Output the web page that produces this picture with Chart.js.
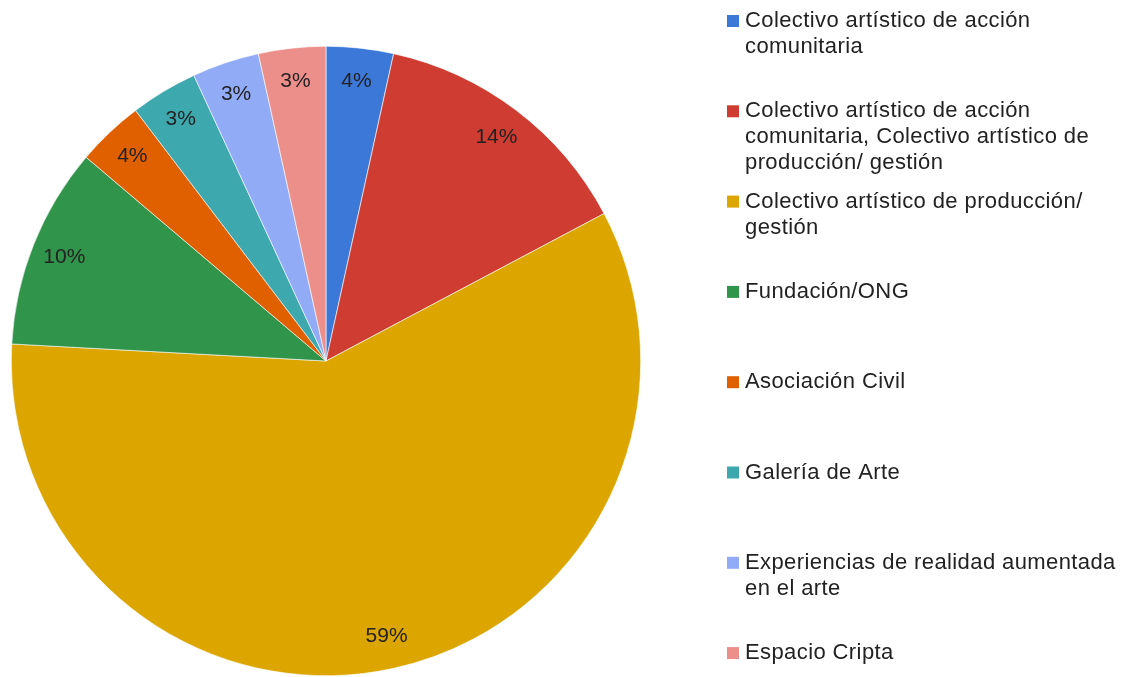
<!DOCTYPE html>
<html>
<head>
<meta charset="utf-8">
<script src="https://cdn.jsdelivr.net/npm/chart.js@4"></script>
<style>
  html, body { margin: 0; padding: 0; background: #fff; }
  #wrap { width: 1128px; height: 677px; position: relative; }
</style>
</head>
<body>
<div id="wrap"><canvas id="myChart"></canvas></div>
<script>
var categories = [
  "Colectivo artístico de acción comunitaria",
  "Colectivo artístico de acción comunitaria, Colectivo artístico de producción/ gestión",
  "Colectivo artístico de producción/ gestión",
  "Fundación/ONG",
  "Asociación Civil",
  "Galería de Arte",
  "Experiencias de realidad aumentada en el arte",
  "Espacio Cripta"
];
var counts = [1, 4, 17, 3, 1, 1, 1, 1];
var pctLabels = ["4%", "14%", "59%", "10%", "4%", "3%", "3%", "3%"];
var sliceColors = ["#3c78d8", "#cf3c31", "#dca500", "#31944b", "#e06000", "#3ea8af", "#91abf6", "#ec8f8a"];

// percentage text on each slice
var sliceLabels = {
  id: "sliceLabels",
  afterDatasetsDraw: function(chart) {
    var ctx = chart.ctx;
    var arcs = chart.getDatasetMeta(0).data;
    ctx.save();
    ctx.font = "21px 'Liberation Sans', Arial, sans-serif";
    ctx.fillStyle = "#222";
    ctx.textAlign = "center";
    ctx.textBaseline = "middle";
    arcs.forEach(function(arc, i) {
      var p = arc.getProps(["x", "y", "startAngle", "endAngle", "outerRadius"], true);
      var mid = (p.startAngle + p.endAngle) / 2;
      var d = p.outerRadius * 0.895;
      ctx.fillText(pctLabels[i], p.x + Math.cos(mid) * d, p.y + Math.sin(mid) * d);
    });
    ctx.restore();
  }
};

// legend on the right, one slot per item
var sideLegend = {
  id: "sideLegend",
  afterDraw: function(chart) {
    var ctx = chart.ctx;
    var x0 = 727, tx = 745, maxW = 1126 - tx;
    ctx.save();
    ctx.font = "22px 'Liberation Sans', Arial, sans-serif";
    ctx.letterSpacing = "0.4px";
    ctx.textBaseline = "middle";
    ctx.textAlign = "left";
    categories.forEach(function(name, i) {
      var y = 21 + i * 90.3;
      ctx.fillStyle = sliceColors[i];
      ctx.fillRect(x0, y - 6, 12, 12);
      // wrap words
      var words = name.split(" "), lines = [], cur = "";
      words.forEach(function(w) {
        var t = cur ? cur + " " + w : w;
        if (ctx.measureText(t).width > maxW && cur) { lines.push(cur); cur = w; }
        else cur = t;
      });
      lines.push(cur);
      ctx.fillStyle = "#222";
      lines.forEach(function(l, j) { ctx.fillText(l, tx, y + j * 26); });
    });
    ctx.restore();
  }
};

new Chart("myChart", {
  type: "pie",
  data: {
    labels: categories,
    datasets: [{
      data: counts,
      backgroundColor: sliceColors,
      borderColor: "#ffffff",
      borderWidth: 0.6
    }]
  },
  options: {
    responsive: true,
    maintainAspectRatio: false,
    animation: false,
    layout: { padding: { left: 11, top: 46, right: 487, bottom: 1 } },
    plugins: {
      legend: { display: false },
      tooltip: { enabled: false }
    }
  },
  plugins: [sliceLabels, sideLegend]
});
</script>
</body>
</html>
